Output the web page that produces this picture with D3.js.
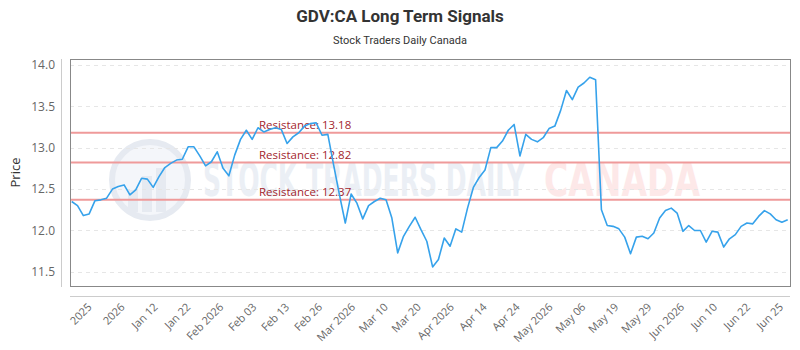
<!DOCTYPE html>
<html>
<head>
<meta charset="utf-8">
<script src="https://cdn.jsdelivr.net/npm/d3@7/dist/d3.min.js"></script>
<style>
  body { margin: 0; background: #fff; }
  svg { display: block; }
</style>
</head>
<body>
<div id="chart"></div>
<script>
// closing prices, one per trading session
const prices = [
  12.35, 12.30, 12.18, 12.20, 12.36, 12.37, 12.39, 12.50, 12.53, 12.55,
  12.43, 12.49, 12.63, 12.62, 12.52, 12.65, 12.76, 12.81, 12.85, 12.86,
  13.01, 13.01, 12.90, 12.78, 12.83, 12.95, 12.75, 12.66, 12.91, 13.10,
  13.21, 13.10, 13.24, 13.19, 13.22, 13.24, 13.22, 13.05, 13.13, 13.18,
  13.26, 13.29, 13.30, 13.15, 13.16, 12.79, 12.43, 12.09, 12.44, 12.33,
  12.14, 12.30, 12.35, 12.39, 12.37, 12.15, 11.73, 11.93, 12.05, 12.16,
  12.01, 11.87, 11.56, 11.65, 11.91, 11.81, 12.02, 11.98, 12.27, 12.52,
  12.64, 12.73, 13.00, 13.00, 13.08, 13.21, 13.28, 12.90, 13.16, 13.10,
  13.07, 13.12, 13.23, 13.26, 13.45, 13.69, 13.58, 13.73, 13.78, 13.85,
  13.82, 12.25, 12.06, 12.05, 12.02, 11.92, 11.72, 11.92, 11.93, 11.90,
  11.97, 12.15, 12.24, 12.27, 12.21, 11.99, 12.06, 12.00, 12.00, 11.86,
  11.99, 11.98, 11.80, 11.90, 11.95, 12.05, 12.09, 12.08, 12.17, 12.24,
  12.20, 12.13, 12.10, 12.13
]

const xLabels = [
  '2025', '2026', 'Jan 12', 'Jan 22', 'Feb 2026', 'Feb 03', 'Feb 13', 'Feb 26',
  'Mar 2026', 'Mar 10', 'Mar 20', 'Apr 2026', 'Apr 14', 'Apr 24', 'May 2026',
  'May 06', 'May 19', 'May 29', 'Jun 2026', 'Jun 10', 'Jun 22', 'Jun 25'
]

const yTicks = [11.5, 12.0, 12.5, 13.0, 13.5, 14.0]

const resistance = [13.18, 12.82, 12.37]

const width = 800
const height = 350
const plot = { left: 70, right: 790, top: 59, bottom: 286 }
const font = "'Open Sans', 'Noto Sans', sans-serif"

const svg = d3.select('#chart')
  .append('svg')
  .attr('width', width)
  .attr('height', height)

const xScale = d3.scaleLinear()
  .domain([0, prices.length - 1])
  .range([71.7, 787.7])

const labelScale = d3.scalePoint()
  .domain(xLabels)
  .range([89.3, 780.6])

const yScale = d3.scaleLinear()
  .domain([11.33, 14.07])
  .range([plot.bottom, plot.top])

// title + subtitle
svg.append('text')
  .attr('x', width / 2)
  .attr('y', 22)
  .attr('text-anchor', 'middle')
  .style('font-family', "'Roboto', sans-serif")
  .style('font-weight', 'bold')
  .style('font-size', '17px')
  .style('fill', '#333')
  .text('GDV:CA Long Term Signals')

svg.append('text')
  .attr('x', width / 2)
  .attr('y', 44)
  .attr('text-anchor', 'middle')
  .style('font-family', "'Roboto', sans-serif")
  .style('font-size', '11px')
  .style('fill', '#333')
  .text('Stock Traders Daily Canada')

// watermark
const wm = svg.append('g').attr('class', 'watermark')
wm.append('circle')
  .attr('cx', 150).attr('cy', 180).attr('r', 38)
  .attr('fill', '#f4f6fa')
  .attr('stroke', '#e6eaf1')
  .attr('stroke-width', 6)
;[[128, 190, 10, 22], [142, 176, 10, 36], [156, 168, 10, 44]].forEach(b => {
  wm.append('rect')
    .attr('x', b[0]).attr('y', b[1]).attr('width', b[2]).attr('height', b[3])
    .attr('fill', '#e6eaf1')
})
wm.append('text')
  .attr('x', 203).attr('y', 196)
  .attr('textLength', 322)
  .attr('lengthAdjust', 'spacingAndGlyphs')
  .style('font-family', "'DejaVu Sans Condensed', 'DejaVu Sans', sans-serif")
  .style('font-weight', 'bold')
  .style('font-size', '46px')
  .style('fill', '#ebeff5')
  .text('STOCK TRADERS DAILY')
wm.append('text')
  .attr('x', 544).attr('y', 196)
  .attr('textLength', 156)
  .attr('lengthAdjust', 'spacingAndGlyphs')
  .style('font-family', "'DejaVu Sans', sans-serif")
  .style('font-weight', 'bold')
  .style('font-size', '46px')
  .style('fill', '#fde8e8')
  .text('CANADA')

// grid lines
svg.append('g')
  .selectAll('line')
  .data(yTicks)
  .enter()
  .append('line')
  .attr('x1', plot.left)
  .attr('x2', plot.right)
  .attr('y1', d => Math.round(yScale(d)) + 0.5)
  .attr('y2', d => Math.round(yScale(d)) + 0.5)
  .attr('stroke', '#e6e6e6')
  .attr('stroke-dasharray', '4,4')

// plot border
svg.append('rect')
  .attr('x', plot.left + 0.5)
  .attr('y', plot.top + 0.5)
  .attr('width', plot.right - plot.left)
  .attr('height', plot.bottom - plot.top)
  .attr('fill', 'none')
  .attr('stroke', '#888')

// y axis
const yAxis = d3.axisLeft(yScale)
  .tickValues(yTicks)
  .tickFormat(d3.format('.1f'))
  .tickSize(0)
  .tickPadding(6)

const yg = svg.append('g')
  .attr('transform', 'translate(61,0)')
  .call(yAxis)
yg.select('.domain')
  .attr('stroke', '#ccc')
  .attr('d', `M0.5,${plot.top}V${plot.bottom + 1}`)
yg.selectAll('text')
  .style('font-family', font)
  .style('font-size', '12px')
  .style('fill', '#666')

svg.append('text')
  .attr('transform', `translate(20, ${(plot.top + plot.bottom) / 2}) rotate(-90)`)
  .attr('text-anchor', 'middle')
  .style('font-family', font)
  .style('font-size', '13px')
  .style('fill', '#333')
  .text('Price')

// x axis
const xAxis = d3.axisBottom(labelScale).tickSize(0).tickPadding(0)
const xg = svg.append('g')
  .attr('transform', 'translate(0,296)')
  .call(xAxis)
xg.select('.domain')
  .attr('stroke', '#ccc')
  .attr('d', `M${plot.left},0.5H${plot.right}`)
xg.selectAll('text')
  .attr('y', 0)
  .attr('dy', '0.35em')
  .attr('text-anchor', 'end')
  .attr('transform', 'translate(0,9) rotate(-45)')
  .style('font-family', font)
  .style('font-size', '11px')
  .style('fill', '#666')

// resistance lines
const res = svg.append('g')
res.selectAll('line')
  .data(resistance)
  .enter()
  .append('line')
  .attr('x1', plot.left + 1)
  .attr('x2', plot.right)
  .attr('y1', d => yScale(d))
  .attr('y2', d => yScale(d))
  .attr('stroke', '#ef9a9a')
  .attr('stroke-width', 2)
res.selectAll('text')
  .data(resistance)
  .enter()
  .append('text')
  .attr('x', 259)
  .attr('y', d => yScale(d) - 4)
  .style('font-family', font)
  .style('font-size', '11.5px')
  .style('fill', '#a3262e')
  .text(d => `Resistance: ${d.toFixed(2)}`)

// price line
const line = d3.line()
  .x((d, i) => xScale(i))
  .y(d => yScale(d))

svg.append('path')
  .datum(prices)
  .attr('d', line)
  .attr('fill', 'none')
  .attr('stroke', '#36a2eb')
  .attr('stroke-width', 1.6)
  .attr('stroke-linejoin', 'round')
</script>
</body>
</html>
